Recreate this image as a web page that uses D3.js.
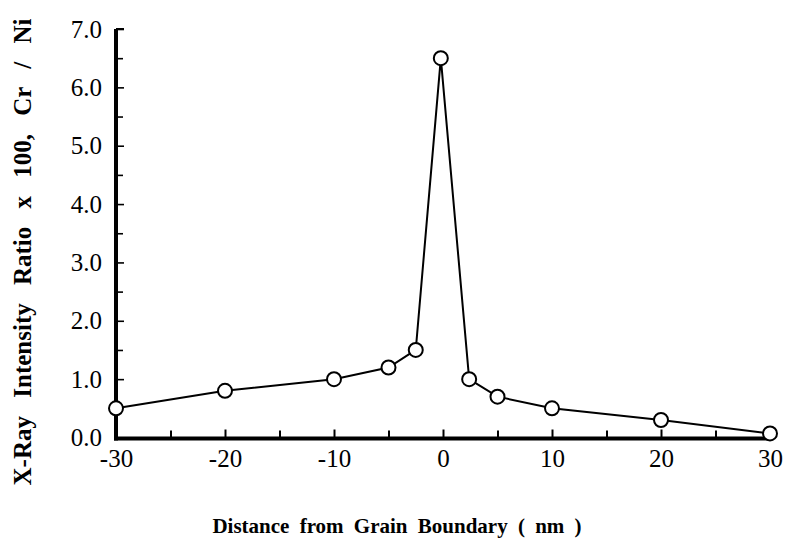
<!DOCTYPE html>
<html>
<head>
<meta charset="utf-8">
<script src="https://cdn.jsdelivr.net/npm/d3@7"></script>
<style>
  body { margin: 0; background: #fff; }
  svg text { font-family: "Liberation Serif", "Times New Roman", serif; fill: #000; }
</style>
</head>
<body>
<svg id="chart" width="785" height="543"></svg>
<script>
// distances (nm) and ratios
const distance = [-30, -20, -10, -5, -2.5, -0.2, 2.4, 5, 10, 20, 30]
const ratio = [0.5, 0.8, 1.0, 1.2, 1.5, 6.5, 1.0, 0.7, 0.5, 0.3, 0.07]
const xTicks = [-30, -20, -10, 0, 10, 20, 30]
const xMinor = [-25, -15, -5, 5, 15, 25]
const yTicks = [0, 1, 2, 3, 4, 5, 6, 7]
const yMinor = [0.5, 1.5, 2.5, 3.5, 4.5, 5.5, 6.5]

const margin = { top: 29, right: 15, bottom: 105, left: 116 }
const width = 785
const height = 543

const svg = d3.select('#chart')

const xScale = d3.scaleLinear()
    .domain([-30, 30])
    .range([margin.left, width - margin.right])

const yScale = d3.scaleLinear()
    .domain([0, 7])
    .range([height - margin.bottom - 0.5, margin.top])

const y0 = yScale(0)

// minor ticks (no labels)
svg.append('g')
    .attr('transform', `translate(0, ${y0})`)
    .call(d3.axisBottom(xScale).tickValues(xMinor).tickSizeInner(-7).tickSizeOuter(0).tickFormat(''))
    .call(g => g.select('.domain').remove())
    .selectAll('.tick line').attr('stroke-width', 2)

svg.append('g')
    .attr('transform', `translate(${margin.left}, 0)`)
    .call(d3.axisLeft(yScale).tickValues(yMinor).tickSizeInner(-7).tickSizeOuter(0).tickFormat(''))
    .call(g => g.select('.domain').remove())
    .selectAll('.tick line').attr('stroke-width', 1.6)

// main axes
const xAxisG = svg.append('g')
    .attr('transform', `translate(0, ${y0})`)
    .call(d3.axisBottom(xScale).tickValues(xTicks).tickSizeInner(-8).tickSizeOuter(0).tickPadding(14).tickFormat(d => String(d)))
xAxisG.select('.domain').remove()
xAxisG.selectAll('.tick line').attr('stroke-width', 2)
xAxisG.selectAll('.tick text').attr('font-size', 25).attr('dy', '0.62em')

const yAxisG = svg.append('g')
    .attr('transform', `translate(${margin.left}, 0)`)
    .call(d3.axisLeft(yScale).tickValues(yTicks).tickSizeInner(-8).tickSizeOuter(0).tickPadding(14).tickFormat(d3.format('.1f')))
yAxisG.select('.domain').remove()
yAxisG.selectAll('.tick line').attr('stroke-width', 1.6)
yAxisG.selectAll('.tick text').attr('font-size', 25)

// thick axis lines
svg.append('line')
    .attr('x1', margin.left - 2).attr('x2', xScale(30))
    .attr('y1', y0 + 1).attr('y2', y0 + 1)
    .attr('stroke', '#000').attr('stroke-width', 4)
svg.append('line')
    .attr('x1', margin.left).attr('x2', margin.left)
    .attr('y1', y0 + 3).attr('y2', yScale(7))
    .attr('stroke', '#000').attr('stroke-width', 4)
svg.append('line')
    .attr('x1', margin.left).attr('x2', margin.left + 8)
    .attr('y1', yScale(7)).attr('y2', yScale(7))
    .attr('stroke', '#000').attr('stroke-width', 2)

// data line + markers
const pts = distance.map((d, i) => ({ x: d, y: ratio[i] }))
const line = d3.line().x(d => xScale(d.x)).y(d => yScale(d.y))

svg.append('path')
    .datum(pts)
    .attr('d', line)
    .attr('fill', 'none')
    .attr('stroke', '#000')
    .attr('stroke-width', 2)

svg.selectAll('.pt')
    .data(pts)
    .enter()
    .append('circle')
    .attr('class', 'pt')
    .attr('cx', d => xScale(d.x))
    .attr('cy', d => yScale(d.y))
    .attr('r', 7)
    .attr('fill', '#fff')
    .attr('stroke', '#000')
    .attr('stroke-width', 2)

// axis titles
svg.append('text')
    .attr('x', 397)
    .attr('y', 533)
    .attr('text-anchor', 'middle')
    .attr('font-size', 21)
    .attr('font-weight', 'bold')
    .attr('word-spacing', 5)
    .text('Distance from Grain Boundary ( nm )')

svg.append('text')
    .attr('transform', 'translate(31, 252) rotate(-90)')
    .attr('text-anchor', 'middle')
    .attr('font-size', 25)
    .attr('font-weight', 'bold')
    .attr('word-spacing', 12)
    .text('X-Ray Intensity Ratio x 100, Cr / Ni')
</script>
</body>
</html>
